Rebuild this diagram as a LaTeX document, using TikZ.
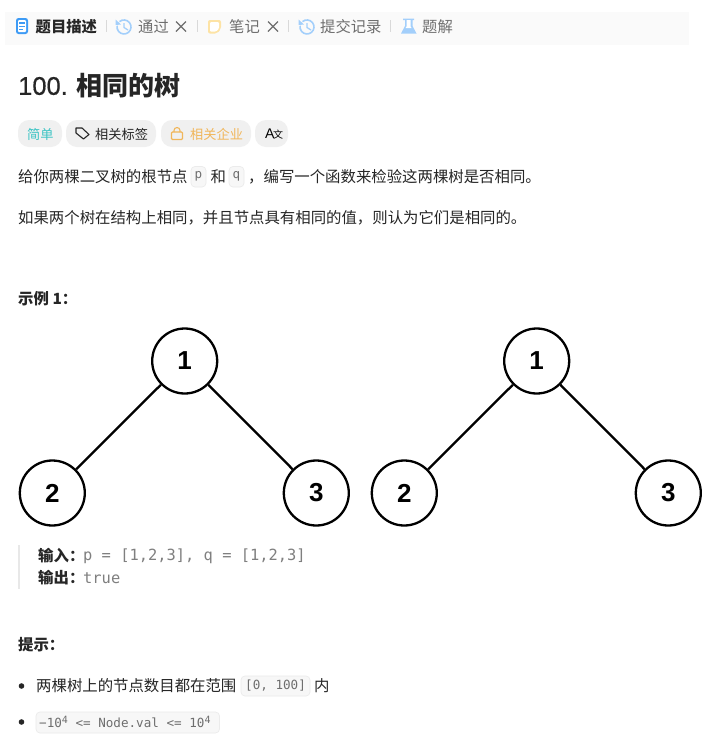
\documentclass[tikz,border=0pt]{standalone}
\usepackage{fontspec}
\setmainfont{Noto Sans CJK SC}
\newfontfamily\latinfont{Liberation Sans}
\newfontfamily\titlefont[FakeBold=0.5]{Liberation Sans}
\newfontfamily\codefont{DejaVu Sans Mono}
\definecolor{tabbg}{HTML}{FAFAFA}
\definecolor{chipbg}{HTML}{F0F0F0}
\definecolor{inktext}{HTML}{262626}
\definecolor{greytext}{HTML}{6E6E6E}
\definecolor{codetext}{HTML}{7F7F7F}
\definecolor{iconblue}{HTML}{A3CFFB}
\definecolor{docblue}{HTML}{3E9BF5}
\definecolor{noteyellow}{HTML}{FDE3A5}
\definecolor{easyteal}{HTML}{3CC4C4}
\definecolor{lockorange}{HTML}{F0B65A}
\tikzset{
  treenode/.style={circle, draw=black, line width=2.3pt, fill=white, minimum size=65pt, inner sep=0pt, font=\latinfont\fontsize{26}{26}\selectfont\bfseries},
  treeedge/.style={line width=2.3pt},
  bodytext/.style={anchor=west, inner sep=0pt, text=inktext, font=\fontsize{15.4}{17}\selectfont},
  tabtext/.style={anchor=west, inner sep=0pt, text=greytext, font=\fontsize{15.3}{16}\selectfont},
  chiptext/.style={anchor=west, inner sep=0pt, font=\fontsize{13.2}{14}\selectfont},
  boldtext/.style={anchor=west, inner sep=0pt, text=inktext, font=\fontsize{15.4}{17}\selectfont\bfseries},
  codetxt/.style={anchor=west, inner sep=0pt, text=codetext, font=\codefont\fontsize{15.4}{17}\selectfont},
  smallcode/.style={anchor=west, inner sep=0pt, text=greytext, font=\codefont\fontsize{12.6}{14}\selectfont},
  codebox/.style={draw=black!8, fill=black!3, rounded corners=4pt, line width=0.7pt},
  tabsep/.style={draw=black!15, line width=0.8pt},
  chip/.style={fill=chipbg, rounded corners=11pt}
}
\begin{document}
\begin{tikzpicture}[x=1pt,y=-1pt]
  \useasboundingbox[fill=white] (0,0) rectangle (728,753);

  % Tab bar
  \fill[tabbg] (5,12) rectangle (689,45);
  \fill[docblue, rounded corners=2.5pt] (16,18) rectangle (28,34);
  \fill[white, rounded corners=1pt] (18,20) rectangle (26,32);
  \foreach \y/\w in {23/6,26.5/6,29.5/3.5} {
    \draw[docblue, line width=1.1pt] (19,\y) -- (19+\w,\y);
  }
  \node[tabtext, text=inktext, font=\fontsize{15.3}{16}\selectfont\bfseries] (tabdesc) at (35.5,26.5) {题目描述};
  \foreach \x in {106.5,197.5,288.5,390} {
    \draw[tabsep] (\x,20) -- (\x,32);
  }
  % History icons
  \foreach \x in {124,307} {
    \draw[iconblue, line width=1.6pt] (\x-4.5,21.6) arc (230:550:7);
    \fill[iconblue] (\x-8.5,19.5) -- (\x-8.5,25) -- (\x-3,24.5) -- cycle;
    \draw[iconblue, line width=1.3pt] (\x,23) -- (\x,27.5) -- (\x+4,30);
  }
  \node[tabtext] (tabpass) at (138,26.5) {通过};
  \draw[greytext, line width=1.1pt] (176,21.5) -- (186,31.5) (186,21.5) -- (176,31.5);
  % Note icon
  \fill[noteyellow, rounded corners=2pt] (208,20) -- (221,20) -- (221,29) -- (217,33.5) -- (208,33.5) -- cycle;
  \fill[white, rounded corners=1pt] (210,22) -- (219,22) -- (219,28.5) -- (216,31.5) -- (210,31.5) -- cycle;
  \node[tabtext] (tabnote) at (229,26.5) {笔记};
  \draw[greytext, line width=1.1pt] (268,21.5) -- (278,31.5) (278,21.5) -- (268,31.5);
  \node[tabtext] (tabsubmit) at (320,26.5) {提交记录};
  % Flask icon
  \fill[iconblue] (403,18.5) -- (414,18.5) -- (414,20) -- (412.5,20) -- (412.5,26) -- (416.5,33.5) -- (401,33.5) -- (405,26) -- (405,20) -- (403,20) -- cycle;
  \fill[white] (406.5,20) -- (410.5,20) -- (410.5,26.5) -- (411.5,28) -- (405.5,28) -- (406.5,26.5) -- cycle;
  \node[tabtext] (tabsolve) at (422,26.5) {题解};

  % Title
  \node[anchor=west, inner sep=0pt, text=inktext, font=\titlefont\fontsize{25.5}{26}\selectfont] (titlenum) at (18,86) {100.};
  \node[anchor=west, inner sep=0pt, text=inktext, font=\fontsize{26}{28}\selectfont\bfseries] (titlename) at (76,86) {相同的树};

  % Chips
  \fill[chip] (18,120) rectangle (62,147);
  \node[chiptext, text=easyteal] (chipeasy) at (27,134) {简单};
  \fill[chip] (66,120) rectangle (156,147);
  \draw[inktext, line width=1.1pt, line join=round] (76,128) -- (82,128) -- (89,134.5) -- (83.5,139) -- (76,133) -- cycle;
  \node[chiptext, text=inktext] (chiptags) at (95,134) {相关标签};
  \fill[chip] (161,120) rectangle (251,147);
  \draw[lockorange, line width=1.1pt, rounded corners=1pt] (171.5,132) rectangle (182.5,139.5);
  \draw[lockorange, line width=1.1pt] (174,132) -- (174,130.5) arc (180:360:3) -- (180,132);
  \node[chiptext, text=lockorange] (chipcompany) at (190,134) {相关企业};
  \fill[chip] (255,120) rectangle (288,147);
  \node[chiptext, text=black, font=\latinfont\fontsize{14}{14}\selectfont] (chiplang) at (265,134) {A\kern-1.5pt{\fontspec{Noto Sans CJK SC}\fontsize{10}{10}\selectfont 文}};

  % Statement
  \node[bodytext] (introa) at (18,176.7) {给你两棵二叉树的根节点};
  \draw[codebox] (191,166.5) rectangle (206,187);
  \node[smallcode, anchor=center] (codep) at (198.5,176.7) {p};
  \node[bodytext] (introand) at (210.5,176.7) {和};
  \draw[codebox] (229,166.5) rectangle (244,187);
  \node[smallcode, anchor=center] (codeq) at (236.5,176.7) {q};
  \node[bodytext] (introb) at (248,176.7) {，编写一个函数来检验这两棵树是否相同。};
  \node[bodytext] (introc) at (18,217.7) {如果两个树在结构上相同，并且节点具有相同的值，则认为它们是相同的。};
  \node[boldtext] (examplehead) at (18,298.7) {示例 1：};

  % Left tree
  \node[treenode] (pone) at (184.7,361) {1};
  \node[treenode] (ptwo) at (52.3,493) {2};
  \node[treenode] (pthree) at (316.3,493) {3};
  \draw[treeedge] (pone) -- (ptwo);
  \draw[treeedge] (pone) -- (pthree);

  % Right tree
  \node[treenode] (qone) at (536.7,361) {1};
  \node[treenode] (qtwo) at (404.3,493) {2};
  \node[treenode] (qthree) at (668.3,493) {3};
  \draw[treeedge] (qone) -- (qtwo);
  \draw[treeedge] (qone) -- (qthree);

  % White strip cuts the lower circles
  \fill[white] (0,527) rectangle (728,540);

  % Example block
  \fill[black!9] (18,545) rectangle (20,589);
  \node[boldtext] (inlabel) at (38,556) {输入：};
  \node[codetxt] (invalue) at (83,556) {p = [1,2,3], q = [1,2,3]};
  \node[boldtext] (outlabel) at (38,578) {输出：};
  \node[codetxt] (outvalue) at (83,578) {true};

  % Hints
  \node[boldtext] (hinthead) at (18,645) {提示：};
  \foreach \y in {686,722} {
    \fill[inktext] (21.5,\y) circle (2.8);
  }
  \node[bodytext] (hinta) at (36,686) {两棵树上的节点数目都在范围};
  \draw[codebox] (241,676) rectangle (310,696);
  \node[smallcode] (hintrange) at (245,686) {[0, 100]};
  \node[bodytext] (hintb) at (314,686) {内};
  \draw[codebox] (36,712) rectangle (219.5,733);
  \node[smallcode] (hintval) at (39,722) {−10\raisebox{4pt}{\fontsize{10}{10}\selectfont 4} <= Node.val <= 10\raisebox{4pt}{\fontsize{10}{10}\selectfont 4}};
\end{tikzpicture}
\end{document}
